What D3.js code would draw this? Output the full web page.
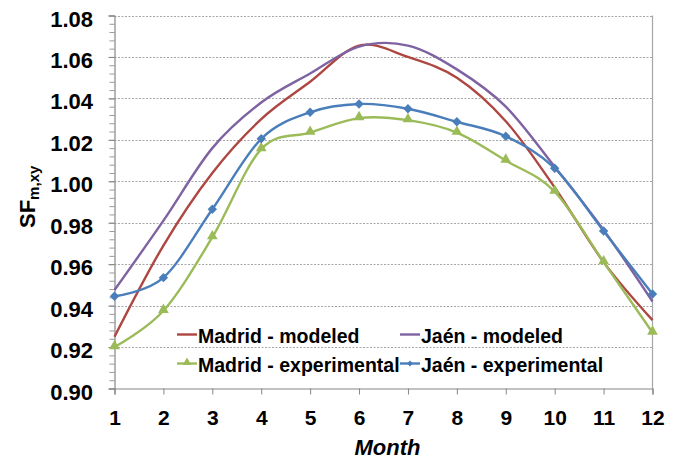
<!DOCTYPE html>
<html>
<head>
<meta charset="utf-8">
<script src="https://cdn.jsdelivr.net/npm/d3@7"></script>
<style>
  html, body { margin: 0; padding: 0; background: #fff; }
  svg { display: block; }
  text { font-family: "Liberation Sans", Arial, sans-serif; font-weight: bold; fill: #000; }
</style>
</head>
<body>
<svg id="chart" width="680" height="460"></svg>
<script>
// ---- Data ----
const months = [1, 2, 3, 4, 5, 6, 7, 8, 9, 10, 11, 12];
const madridModeled = [0.925, 0.969, 1.004, 1.030, 1.048, 1.0655, 1.060, 1.050, 1.029, 0.997, 0.961, 0.933];
const jaenModeled   = [0.9475, 0.981, 1.016, 1.038, 1.052, 1.065, 1.0655, 1.054, 1.036, 1.007, 0.9765, 0.942];
const madridExp     = [0.920, 0.9375, 0.973, 1.0155, 1.0235, 1.0305, 1.0295, 1.0235, 1.010, 0.995, 0.961, 0.927];
const jaenExp       = [0.9445, 0.9535, 0.9865, 1.0205, 1.0333, 1.0373, 1.035, 1.0287, 1.0217, 1.0063, 0.976, 0.9456];
const yTicks = [0.90, 0.92, 0.94, 0.96, 0.98, 1.00, 1.02, 1.04, 1.06, 1.08];
const yMinorTicks = d3.range(0, 46).map(i => 0.90 + i * 0.004);
const seriesNames = ["Madrid - modeled", "Jaén - modeled", "Madrid - experimental", "Jaén - experimental"];

const series = [
  { name: seriesNames[0], values: madridModeled, color: "#AE4641", marker: null },
  { name: seriesNames[1], values: jaenModeled,   color: "#7E62A1", marker: null },
  { name: seriesNames[2], values: madridExp,     color: "#9BBB59", marker: "triangle" },
  { name: seriesNames[3], values: jaenExp,       color: "#4A7EBB", marker: "diamond" }
];
const drawOrder = [0, 1, 2, 3];

// ---- Layout ----
const L = 114.5, R = 652.5, T = 15.5, B = 388.5;
const svg = d3.select("#chart");

const x = d3.scaleLinear().domain([1, 12]).range([L, R]);
const y = d3.scaleLinear().domain([0.90, 1.08]).range([B, T]);

// gridlines
svg.append("g")
  .selectAll("line")
  .data(yTicks.filter(v => v > 0.90))
  .join("line")
  .attr("x1", L).attr("x2", R)
  .attr("y1", d => Math.round(y(d)) + 0.5).attr("y2", d => Math.round(y(d)) + 0.5)
  .attr("stroke", "#A6A6A6")
  .attr("stroke-width", 1)
  .attr("stroke-dasharray", "2,1.5");

// right border
svg.append("line")
  .attr("x1", R).attr("x2", R).attr("y1", T).attr("y2", B)
  .attr("stroke", "#A6A6A6").attr("stroke-width", 1.2);

// y minor ticks
const yMinor = d3.axisLeft(y).tickValues(yMinorTicks).tickSize(5).tickFormat("");
const gMinor = svg.append("g").attr("transform", `translate(${L},0)`).call(yMinor);
gMinor.select(".domain").remove();
gMinor.selectAll("line").attr("stroke", "#9A9A9A");

// y axis
const yAxis = d3.axisLeft(y).tickValues(yTicks).tickSize(6).tickPadding(0).tickFormat(d3.format(".2f"));
const gy = svg.append("g").attr("transform", `translate(${L},0)`).call(yAxis);
gy.select(".domain").attr("stroke", "#868686").attr("stroke-width", 1.2);
gy.selectAll(".tick line").attr("stroke", "#868686");
gy.selectAll(".tick text")
  .attr("x", -21.5)
  .attr("dy", "10.5px")
  .attr("text-anchor", "end")
  .style("font-size", "22px")
  .style("font-family", "'Liberation Sans', Arial, sans-serif")
  .style("font-weight", "bold")
  .attr("fill", "#000");

// x axis
const xAxis = d3.axisBottom(x).tickValues(months).tickSize(6).tickFormat(d3.format("d"));
const gx = svg.append("g").attr("transform", `translate(0,${B})`).call(xAxis);
gx.select(".domain").attr("stroke", "#868686").attr("stroke-width", 1.2);
gx.selectAll(".tick line").attr("stroke", "#868686");
gx.selectAll(".tick text")
  .attr("y", 0)
  .attr("dy", "36.5px")
  .style("font-size", "21px")
  .style("font-family", "'Liberation Sans', Arial, sans-serif")
  .style("font-weight", "bold")
  .attr("fill", "#000");

// axis titles
svg.append("text")
  .attr("x", (L + R) / 2 + 4)
  .attr("y", 455)
  .attr("text-anchor", "middle")
  .style("font-size", "22px")
  .style("font-style", "italic")
  .text("Month");

const yt = svg.append("text")
  .attr("transform", "translate(35,228) rotate(-90)")
  .attr("text-anchor", "start")
  .style("font-size", "22px");
yt.append("tspan").text("SF");
yt.append("tspan").attr("dy", 4).style("font-size", "15px").text("m,xy");

// lines
const line = d3.line()
  .x((d, i) => x(months[i]))
  .y(d => y(d))
  .curve(d3.curveCatmullRom.alpha(0));

const markerPath = (type) => {
  if (type === "triangle") return d3.symbol().type(d3.symbolTriangle).size(50)();
  if (type === "diamond") return d3.symbol().type(d3.symbolSquare).size(44)();
  return null;
};

drawOrder.forEach(k => {
  const s = series[k];
  svg.append("path")
    .datum(s.values)
    .attr("d", line)
    .attr("fill", "none")
    .attr("stroke", s.color)
    .attr("stroke-width", 2.4)
    .attr("stroke-linejoin", "round");
  if (s.marker) {
    svg.append("g")
      .selectAll("path")
      .data(s.values)
      .join("path")
      .attr("d", markerPath(s.marker))
      .attr("transform", (d, i) => `translate(${x(months[i])},${y(d)})` + (s.marker === "diamond" ? " rotate(45)" : " translate(0,-1)"))
      .attr("fill", s.color);
  }
});

// legend
const legendPos = [
  { lx: 177, tx: 198, cy: 334.5 },
  { lx: 400, tx: 421, cy: 334.5 },
  { lx: 177, tx: 198, cy: 363.5 },
  { lx: 400, tx: 421, cy: 363.5 }
];
series.forEach((s, k) => {
  const p = legendPos[k];
  const g = svg.append("g");
  g.append("line")
    .attr("x1", p.lx).attr("x2", p.lx + 20)
    .attr("y1", p.cy).attr("y2", p.cy)
    .attr("stroke", s.color).attr("stroke-width", 2.4);
  if (s.marker) {
    g.append("path")
      .attr("d", markerPath(s.marker))
      .attr("transform", `translate(${p.lx + 10},${p.cy})` + (s.marker === "diamond" ? " rotate(45) scale(0.65)" : " translate(0,-1) scale(0.8)"))
      .attr("fill", s.color);
  }
  g.append("text")
    .attr("x", p.tx)
    .attr("y", p.cy + 8)
    .style("font-size", "19.5px")
    .text(s.name);
});
</script>
</body>
</html>
